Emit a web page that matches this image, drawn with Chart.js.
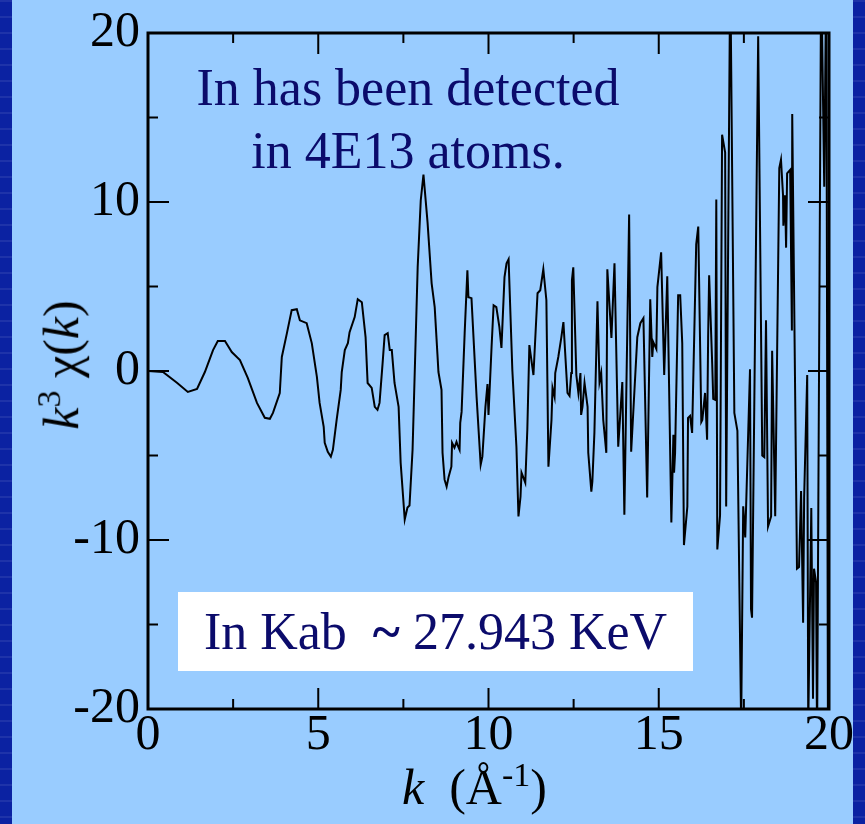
<!DOCTYPE html>
<html lang="en">
<head>
    <meta charset="UTF-8">
    <script src="https://cdn.jsdelivr.net/npm/chart.js@4.4.1/dist/chart.umd.min.js"></script>
    <style>
        html, body {
            margin: 0;
            padding: 0;
        }

        body {
            width: 865px;
            height: 824px;
            position: relative;
            overflow: hidden;
            background: #99ccff;
            font-family: "Liberation Serif", "Times New Roman", serif;
        }

        .stripe {
            position: absolute;
            top: 0;
            width: 12px;
            height: 824px;
            background-color: #0b22a2;
            background-image: repeating-linear-gradient(180deg, rgba(255,255,255,0.08) 0 2px, rgba(0,0,0,0) 2px 16px);
        }

        canvas {
            position: absolute;
            left: 0;
            top: 0;
        }

        .note {
            position: absolute;
            color: #0b0b6b;
            font-size: 52px;
            line-height: 63px;
            white-space: nowrap;
        }

        .axis-title {
            position: absolute;
            color: #000;
            font-size: 50px;
            white-space: nowrap;
        }
    </style>
    <title>k3 chi(k) In K-edge</title>
</head>
<body>
    <div class="stripe" style="left: 0;"></div>
    <div class="stripe" style="left: 853px;"></div>

    <canvas id="chiChart" width="865" height="824"></canvas>

    <div class="note" style="left: 160px; top: 56px; width: 496px; text-align: center;">In has been detected<br>in 4E13 atoms.</div>
    <div class="note" style="left: 178px; top: 592px; width: 515px; height: 79px; background: #fff; line-height: 79px; text-align: center;">In Kab&nbsp; <b>~</b> 27.943 KeV</div>

    <div class="axis-title" style="left: 402px; top: 756px;"><i>k</i>&nbsp; (Å<sup style="font-size: 34px;">-1</sup>)</div>
    <div class="axis-title" style="left: 60px; top: 365px; transform: translate(-50%, -50%) rotate(-90deg);"><i>k</i><sup style="font-size: 34px;">3</sup> χ(<i>k</i>)</div>

    <script>
        // k in 1/Angstrom, k^3 chi(k)
        const kValues = [
            0, 0.44, 0.85, 1.17, 1.44, 1.67, 1.91, 2.05, 2.26, 2.46, 2.70, 2.93, 3.20, 3.43, 3.58, 3.67, 3.87, 3.93, 4.08, 4.22, 4.37, 4.46,
            4.66, 4.81, 4.96, 5.04, 5.16, 5.19, 5.28, 5.37, 5.43, 5.54, 5.66, 5.69, 5.78, 5.87, 5.92, 6.07, 6.16, 6.28, 6.39, 6.45, 6.57,
            6.66, 6.74, 6.80, 6.89, 6.95, 7.04, 7.10, 7.16, 7.24, 7.36, 7.42, 7.54, 7.62, 7.68, 7.77, 7.92, 8.01, 8.09, 8.18, 8.21, 8.33,
            8.42, 8.50, 8.53, 8.62, 8.65, 8.71, 8.77, 8.83, 8.91, 8.93, 9.00, 9.06, 9.09, 9.15, 9.17, 9.21, 9.30, 9.38, 9.41, 9.50, 9.65,
            9.77, 9.82, 9.91, 9.97, 10.00, 10.09, 10.15, 10.23, 10.32, 10.38, 10.47, 10.53, 10.59, 10.70, 10.82, 10.88, 10.94, 10.97,
            11.08, 11.14, 11.20, 11.32, 11.44, 11.52, 11.61, 11.70, 11.73, 11.76, 11.85, 11.88, 11.94, 11.96, 12.05, 12.14, 12.20,
            12.32, 12.38, 12.43, 12.45, 12.49, 12.58, 12.64, 12.70, 12.72, 12.76, 12.82, 12.91, 12.93, 13.02, 13.05, 13.11, 13.20,
            13.26, 13.31, 13.37, 13.46, 13.49, 13.61, 13.70, 13.81, 13.93, 13.99, 14.13, 14.19, 14.37, 14.46, 14.55, 14.66, 14.75,
            14.81, 14.84, 14.93, 14.96, 15.07, 15.16, 15.25, 15.37, 15.43, 15.45, 15.48, 15.57, 15.63, 15.69, 15.74, 15.84, 15.86,
            15.92, 15.98, 16.10, 16.16, 16.25, 16.28, 16.36, 16.42, 16.45, 16.48, 16.57, 16.60, 16.66, 16.69, 16.72, 16.80, 16.86,
            16.95, 16.98, 17.10, 17.22, 17.31, 17.42, 17.48, 17.54, 17.68, 17.71, 17.74, 17.92, 18.04, 18.10, 18.15, 18.21, 18.30,
            18.33, 18.42, 18.54, 18.59, 18.65, 18.66, 18.71, 18.74, 18.77, 18.86, 18.91, 18.92, 19.06, 19.12, 19.18, 19.24, 19.27,
            19.36, 19.39, 19.48, 19.53, 19.56, 19.62, 19.65, 19.77, 19.86, 19.92, 19.97
        ];
        const chiValues = [
            0, -0.06, -0.7, -1.24, -1.06, -0.06, 1.24, 1.77, 1.77, 1.12, 0.65, -0.41, -1.89, -2.77, -2.83, -2.48, -1.30, 0.83, 2.24, 3.60, 3.66, 3.0,
            2.83, 1.65, -0.35, -1.89, -3.30, -4.25, -4.78, -5.07, -4.66, -2.89, -1.12, -0.06, 1.24, 1.65, 2.30, 3.19, 4.25, 4.07, 2.0, -0.71, -1.0,
            -2.12, -2.30, -1.89, 0.47, 2.12, 2.24, 1.24, 1.24, -0.71, -2.12, -5.43, -8.79, -8.08, -7.96, -4.66, 6.14, 10.09, 11.62, 9.50, 8.79, 5.19,
            3.78, 1.0, -0.06, -1.12, -4.84, -6.43, -6.84, -6.25, -5.66, -4.25, -4.54, -4.19, -4.37, -4.66, -3.07, -2.42, 2.24, 5.96, 4.37, 4.31, -1.53,
            -5.55, -5.07, -2.12, -0.77, -2.60, 1.42, 3.89, 3.78, 2.60, 1.36, 5.55, 6.37, 6.61, 0.06, -4.48, -8.61, -7.43, -6.02,
            -6.61, -3.48, 1.53, -0.24, 4.60, 4.78, 6.02, 4.19, -0.71, -5.66, -2.89, -1.0, -1.53, -0.12, 0.83, 2.0, 2.89,
            -1.30, -1.47, -0.12, 5.37, 6.14, -0.24, -1.30, -0.12, -2.60, -2.12, -0.71, -2.12, -4.84, -7.14, -6.55, -3.66, 4.13,
            -0.65, -0.12, -2.89, -4.84, 6.02, 1.95, 6.37, -4.48, -0.65, -8.50, 9.26, -4.78, 2.0, 2.83, 3.13, -7.49, 4.25,
            0.83, 1.71, 1.30, 4.96, 7.02, -0.24, 5.60, -8.97, -3.78, -6.02, -4.84, 4.48, 4.48, 1.65, -10.3, -8.02, -2.77,
            -2.65, -3.66, 7.49, 8.55, -3.01, -2.89, -1.30, -4.07, 1.95, 5.66, 0.41, -1.65, -1.71, 10.15, -10.56, -8.55, 13.98,
            12.92, -8.02, 24, -2.48, -3.54, -21, -8.0, -9.85, 0.1, -14.1, -14.6, 19.8, -5.0, -5.1, 3.0, -9.2, -8.6,
            1.2, -8.6, 12.0, 12.5, 10.4, 8.6, 10.4, 7.3, 11.7, 11.9, 2.4, 15.2, -11.7, -11.6, -7.1, -14.9, -7.5,
            -0.24, -21, -8.1, -19.4, -11.7, -12.5, -22, 24, 10.9, 24, -22
        ];
        const xLabelTicks = [0, 5, 10, 15, 20];
        const xMinorTicks = [2.5, 7.5, 12.5, 17.5];
        const yLabelTicks = [-20, -10, 0, 10, 20];
        const yMinorTicks = [-15, -5, 5, 15];

        const points = kValues.map((k, i) => ({ x: k, y: chiValues[i] }));

        // frame + inward ticks on all four sides, like the original plot
        const frameTicks = {
            id: 'frameTicks',
            afterDatasetsDraw(chart) {
                const { ctx, chartArea: a, scales } = chart;
                ctx.save();
                ctx.strokeStyle = '#000';
                ctx.lineWidth = 2;
                const major = 21, minor = 10;
                const tickX = (v, len) => {
                    const px = scales.x.getPixelForValue(v);
                    ctx.beginPath();
                    ctx.moveTo(px, a.bottom); ctx.lineTo(px, a.bottom - len);
                    ctx.moveTo(px, a.top); ctx.lineTo(px, a.top + len);
                    ctx.stroke();
                };
                const tickY = (v, len) => {
                    const py = scales.y.getPixelForValue(v);
                    ctx.beginPath();
                    ctx.moveTo(a.left, py); ctx.lineTo(a.left + len, py);
                    ctx.moveTo(a.right, py); ctx.lineTo(a.right - len, py);
                    ctx.stroke();
                };
                xLabelTicks.forEach(v => tickX(v, major));
                xMinorTicks.forEach(v => tickX(v, minor));
                yLabelTicks.forEach(v => tickY(v, major));
                yMinorTicks.forEach(v => tickY(v, minor));
                ctx.lineWidth = 3;
                ctx.strokeRect(a.left, a.top, a.right - a.left, a.bottom - a.top);
                ctx.restore();
            }
        };

        const tickFont = { family: '"Liberation Serif", "Times New Roman", serif', size: 50, lineHeight: 1 };

        new Chart(document.getElementById('chiChart'), {
            type: 'line',
            data: {
                datasets: [{
                    data: points,
                    borderColor: '#000',
                    borderWidth: 2,
                    pointRadius: 0,
                    tension: 0,
                    fill: false
                }]
            },
            options: {
                responsive: false,
                animation: false,
                devicePixelRatio: 1,
                layout: { padding: { left: 0, top: 32, right: 36, bottom: 55 } },
                plugins: {
                    legend: { display: false },
                    tooltip: { enabled: false }
                },
                scales: {
                    x: {
                        type: 'linear',
                        min: 0,
                        max: 20,
                        grid: { display: false, drawTicks: false },
                        border: { display: false },
                        ticks: { stepSize: 5, padding: 2, color: '#000', font: tickFont, maxRotation: 0 },
                        afterFit(scale) { scale.height = 60; }
                    },
                    y: {
                        type: 'linear',
                        min: -20,
                        max: 20,
                        grid: { display: false, drawTicks: false },
                        border: { display: false },
                        ticks: { stepSize: 10, padding: 8, color: '#000', font: tickFont },
                        afterFit(scale) { scale.width = 148; }
                    }
                }
            },
            plugins: [frameTicks]
        });
    </script>
</body>
</html>
